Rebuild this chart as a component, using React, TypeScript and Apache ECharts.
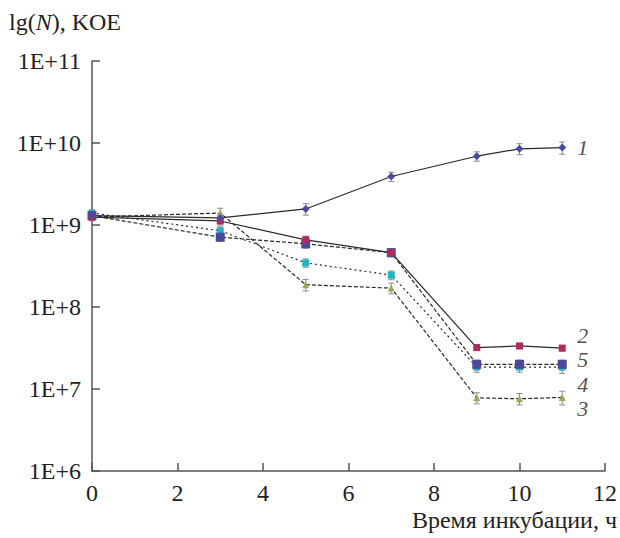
import React, { useEffect, useRef } from "react";
import * as echarts from "echarts";

const hours = [0, 3, 5, 7, 9, 10, 11];

const s1 = [1.3e9, 1.22e9, 1.57e9, 3.9e9, 6.9e9, 8.5e9, 8.8e9];
const s2 = [1.25e9, 1.12e9, 6.6e8, 4.6e8, 3.2e7, 3.35e7, 3.15e7];
const s5 = [1.3e9, 7.1e8, 5.9e8, 4.6e8, 2.0e7, 2.0e7, 2.0e7];
const s4 = [1.4e9, 8.5e8, 3.45e8, 2.45e8, 1.85e7, 1.85e7, 1.85e7];
const s3 = [1.25e9, 1.4e9, 1.87e8, 1.7e8, 7.8e6, 7.6e6, 7.9e6];

const e1 = [1.5e8, 1.5e8, 2.5e8, 5e8, 9e8, 1.3e9, 1.5e9];
const e2 = [1.2e8, 1.2e8, 7e7, 5e7, 2.5e6, 2.5e6, 2.5e6];
const e5 = [1.2e8, 8e7, 7e7, 5e7, 2.5e6, 2.5e6, 2.5e6];
const e4 = [1.2e8, 1e8, 4e7, 3e7, 2.5e6, 2.5e6, 3e6];
const e3 = [1.2e8, 2e8, 3e7, 2.5e7, 1.2e6, 1.2e6, 1.5e6];

const yTickExponents = [6, 7, 8, 9, 10, 11];
const xTicks = [0, 2, 4, 6, 8, 10, 12];

const curveLabels = ["1", "2", "5", "4", "3"];
const curveLabelX = [11.35, 11.35, 11.35, 11.35, 11.35];
const curveLabelY = [8.7e9, 4.45e7, 2.26e7, 1.15e7, 5.8e6];

const FONT = "Liberation Serif";
const FS = 24;

function errSeries(vals: number[], errs: number[]) {
  const data = hours.map((h, i) => [h, vals[i] - errs[i], vals[i] + errs[i]]);
  return {
    type: "custom",
    silent: true,
    z: 1,
    renderItem: (params: any, api: any) => {
      const x = api.value(0);
      const lo = api.coord([x, api.value(1)]);
      const hi = api.coord([x, api.value(2)]);
      const w = 3;
      const style = { stroke: "#8a8a8a", lineWidth: 1 };
      return {
        type: "group",
        children: [
          { type: "line", shape: { x1: lo[0], y1: lo[1], x2: hi[0], y2: hi[1] }, style },
          { type: "line", shape: { x1: lo[0] - w, y1: lo[1], x2: lo[0] + w, y2: lo[1] }, style },
          { type: "line", shape: { x1: hi[0] - w, y1: hi[1], x2: hi[0] + w, y2: hi[1] }, style },
        ],
      };
    },
    data,
  };
}

function lineSeries(
  vals: number[],
  color: string,
  symbol: string,
  size: number,
  dash: any
) {
  return {
    type: "line",
    data: hours.map((h, i) => [h, vals[i]]),
    symbol,
    symbolSize: size,
    showAllSymbol: true,
    z: 3,
    itemStyle: { color, borderWidth: 0 },
    lineStyle: { color: "#2a2a2a", width: 1.2, type: dash },
  };
}

export default function App() {
  const ref = useRef<HTMLDivElement>(null);
  useEffect(() => {
    document.body.style.margin = "0";
    const chart = echarts.init(ref.current!, undefined, { renderer: "svg" });
    chart.setOption({
      animation: false,
      backgroundColor: "#ffffff",
      grid: { left: 92, right: 13, top: 61, bottom: 67 },
      xAxis: {
        type: "value",
        min: 0,
        max: 12,
        interval: 2,
        axisLine: { lineStyle: { color: "#555", width: 1.5 } },
        axisTick: { inside: true, length: 8, lineStyle: { color: "#555", width: 1.5 } },
        splitLine: { show: false },
        axisLabel: {
          color: "#222",
          fontFamily: FONT,
          fontSize: FS,
          lineHeight: 20,
          margin: 12,
          formatter: (v: number) => (xTicks.includes(v) ? String(v) : ""),
        },
      },
      yAxis: {
        type: "log",
        logBase: 10,
        min: 1e6,
        max: 1e11,
        axisLine: { show: true, lineStyle: { color: "#555", width: 1.5 } },
        axisTick: { show: true, inside: true, length: 8, lineStyle: { color: "#555", width: 1.5 } },
        minorTick: { show: false },
        splitLine: { show: false },
        axisLabel: {
          color: "#222",
          fontFamily: FONT,
          fontSize: FS,
          margin: 11,
          formatter: (v: number) => {
            const e = Math.round(Math.log10(v));
            return yTickExponents.includes(e) ? "1E+" + e : "";
          },
        },
      },
      graphic: [
        {
          type: "text",
          left: 9,
          top: 10,
          style: {
            text: "{a|lg(}{b|N}{a|), KOE}",
            rich: {
              a: { fontFamily: FONT, fontSize: FS, fill: "#222" },
              b: { fontFamily: FONT, fontSize: FS, fontStyle: "italic", fill: "#222" },
            },
          },
        },
        {
          type: "text",
          right: 3,
          top: 508,
          style: {
            text: "Время инкубации, ч",
            fontFamily: FONT,
            fontSize: FS,
            lineHeight: 22,
            fill: "#222",
          },
        },
      ],
      series: [
        errSeries(s1, e1),
        errSeries(s2, e2),
        errSeries(s5, e5),
        errSeries(s4, e4),
        errSeries(s3, e3),
        lineSeries(s3, "#9aa85a", "triangle", 7, [4, 2]),
        lineSeries(s4, "#22b4be", "rect", 7, [2, 3]),
        lineSeries(s5, "#4a4a9c", "rect", 9, [4, 2]),
        lineSeries(s2, "#b02a5c", "rect", 7, "solid"),
        lineSeries(s1, "#4a4aa0", "diamond", 8, "solid"),
        {
          type: "scatter",
          symbolSize: 0,
          silent: true,
          data: curveLabels.map((t, i) => ({ value: [curveLabelX[i], curveLabelY[i]], name: t })),
          label: {
            show: true,
            position: "right",
            distance: 0,
            formatter: (p: any) => p.name,
            fontFamily: FONT,
            fontSize: 22,
            lineHeight: 16,
            fontStyle: "italic",
            color: "#222",
          },
        },
      ],
    });
    return () => chart.dispose();
  }, []);
  return <div ref={ref} style={{ width: 620, height: 538 }} />;
}
